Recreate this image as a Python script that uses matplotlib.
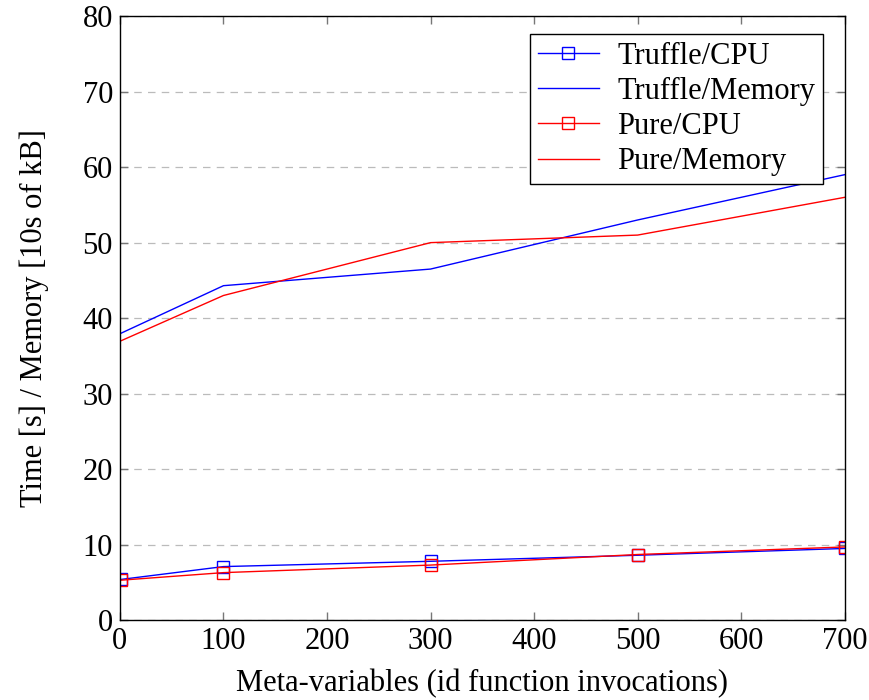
import numpy as np
import matplotlib.pyplot as plt

x = [1, 100, 300, 500, 700]
truffle_cpu = [5.4, 7.1, 7.8, 8.6, 9.5]
truffle_mem = [38.0, 44.3, 46.5, 53.0, 59.0]
pure_cpu = [5.3, 6.3, 7.3, 8.7, 9.7]
pure_mem = [37.0, 43.0, 50.0, 51.0, 56.0]

plt.rcParams['font.family'] = ['Liberation Serif', 'DejaVu Serif']
plt.rcParams['font.size'] = 22

fig = plt.figure(figsize=(8.69, 7.0), dpi=100)
ax = fig.add_axes([0.138, 0.114, 0.834, 0.863])

ax.plot(x, truffle_cpu, color='blue', lw=1.0, marker='s', markersize=8,
        markerfacecolor='none', markeredgecolor='blue', markeredgewidth=1.0, label='Truffle/CPU')
ax.plot(x, truffle_mem, color='blue', lw=1.0, label='Truffle/Memory')
ax.plot(x, pure_cpu, color='red', lw=1.0, marker='s', markersize=8,
        markerfacecolor='none', markeredgecolor='red', markeredgewidth=1.0, label='Pure/CPU')
ax.plot(x, pure_mem, color='red', lw=1.0, label='Pure/Memory')

ax.set_xlim(0, 700)
ax.set_ylim(0, 80)
ax.set_xticks([0, 100, 200, 300, 400, 500, 600, 700])
ax.set_yticks(np.arange(0, 81, 10))
ax.yaxis.grid(True, linestyle=(0, (6, 5)), color='#bbbbbb', lw=0.9)
ax.set_axisbelow(True)
ax.tick_params(direction='in', top=True, right=True, length=6, width=1, color='#777777',
               labelsize=22, pad=5)
for s in ax.spines.values():
    s.set_linewidth(1.0)

ax.set_xlabel('Meta-variables (id function invocations)', fontsize=22, labelpad=9)
ax.set_ylabel('Time [s] / Memory [10s of kB]', fontsize=22, labelpad=24)

leg = ax.legend(loc='upper right', bbox_to_anchor=(0.97, 0.97), fontsize=22, frameon=True,
                fancybox=False, edgecolor='black', framealpha=1, handlelength=2.0,
                borderpad=0.25, labelspacing=0.2, handletextpad=0.6, borderaxespad=0)
leg.get_frame().set_linewidth(1.0)

fig.savefig('out.png', dpi=100)
